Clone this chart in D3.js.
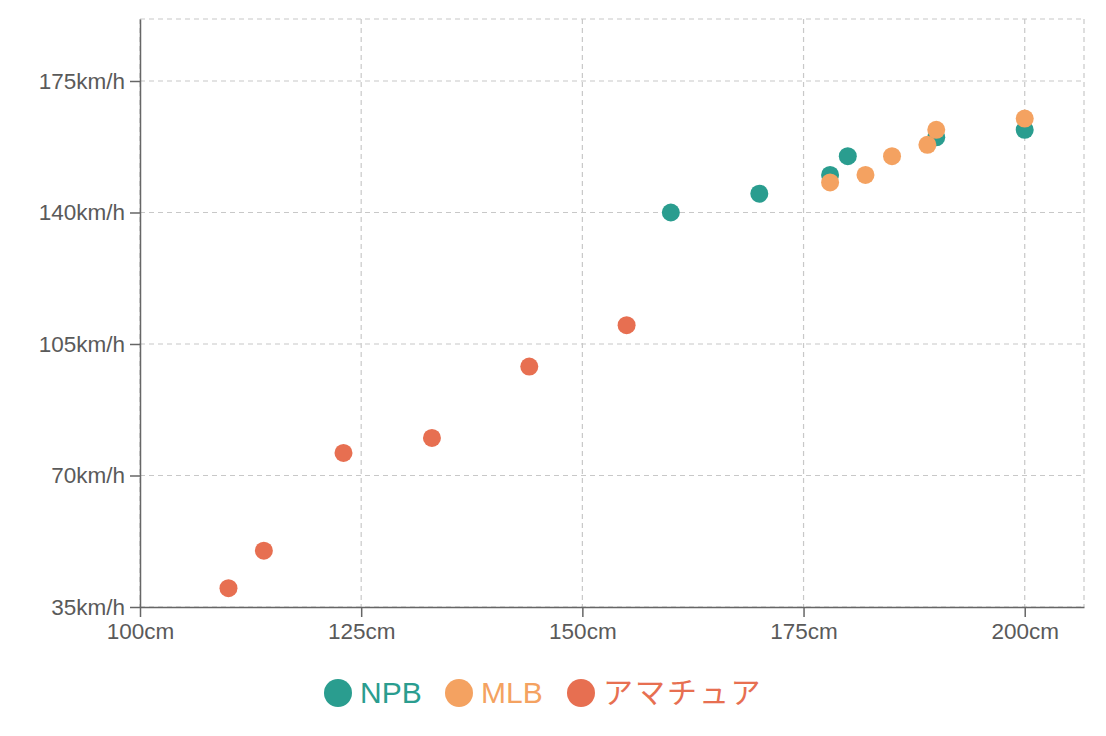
<!DOCTYPE html>
<html>
<head>
<meta charset="utf-8">
<script src="https://cdn.jsdelivr.net/npm/d3@7"></script>
<style>
  body { margin: 0; background: #fff; font-family: "Liberation Sans", Arial, sans-serif; }
  .grid line { stroke: #c8c8c8; stroke-dasharray: 5,4; stroke-width: 1.2; }
  .axis path, .axis line { stroke: #666; stroke-width: 1.5; }
  .axis text { fill: #5a5a5a; font-size: 22.5px; font-family: "Liberation Sans", Arial, sans-serif; }
</style>
</head>
<body>
<div id="container"></div>
<script>
// series names and colours
var seriesNames = ["NPB", "MLB", "アマチュア"];
var seriesColors = ["#2a9d8f", "#f4a261", "#e76f51"];

// height (cm) / speed (km/h) per series
var npbHeight = [160, 170, 178, 180, 190, 200];
var npbSpeed  = [140, 145, 150, 155, 160, 162];

var mlbHeight = [178, 182, 185, 189, 190, 200];
var mlbSpeed  = [148, 150, 155, 158, 162, 165];

var amaHeight = [110, 114, 123, 133, 144, 155];
var amaSpeed  = [40, 50, 76, 80, 99, 110];

var xTicks = [100, 125, 150, 175, 200];
var yTicks = [35, 70, 105, 140, 175];

var W = 1106, H = 736;
var margin = {top: 19, right: 22, bottom: 129, left: 140};
var width = W - margin.left - margin.right;
var height = H - margin.top - margin.bottom;

var series = [
  {name: seriesNames[0], color: seriesColors[0], xs: npbHeight, ys: npbSpeed},
  {name: seriesNames[1], color: seriesColors[1], xs: mlbHeight, ys: mlbSpeed},
  {name: seriesNames[2], color: seriesColors[2], xs: amaHeight, ys: amaSpeed}
];

var svg = d3.select("#container")
  .append("svg")
    .attr("width", W)
    .attr("height", H)
  .append("g")
    .attr("transform", "translate(" + margin.left + "," + margin.top + ")");

var x = d3.scaleLinear().domain([100, 206.7]).range([0, width]);
var y = d3.scaleLinear().domain([35, 191.5]).range([height, 0]);

// grid
var grid = svg.append("g").attr("class", "grid");
grid.selectAll(".gx")
    .data(xTicks.concat([206.7]))
  .enter().append("line")
    .attr("x1", function(d) { return x(d); })
    .attr("x2", function(d) { return x(d); })
    .attr("y1", 0)
    .attr("y2", height);
grid.selectAll(".gy")
    .data(yTicks.concat([191.5]))
  .enter().append("line")
    .attr("x1", 0)
    .attr("x2", width)
    .attr("y1", function(d) { return y(d); })
    .attr("y2", function(d) { return y(d); });

// axes
svg.append("g")
  .attr("class", "x axis")
  .attr("transform", "translate(0," + height + ")")
  .call(d3.axisBottom(x).tickValues(xTicks).tickSize(10).tickSizeOuter(0).tickPadding(6)
    .tickFormat(function(d) { return d + "cm"; }));

svg.append("g")
  .attr("class", "y axis")
  .call(d3.axisLeft(y).tickValues(yTicks).tickSize(10).tickSizeOuter(0).tickPadding(5)
    .tickFormat(function(d) { return d + "km/h"; }));

// points
series.forEach(function(s) {
  var pts = s.xs.map(function(v, i) { return {x: v, y: s.ys[i]}; });
  svg.selectAll(".dot-" + s.name)
      .data(pts)
    .enter().append("circle")
      .attr("r", 9)
      .attr("cx", function(d) { return x(d.x); })
      .attr("cy", function(d) { return y(d.y); })
      .attr("fill", s.color);
});

// legend
var legendX = [338, 459, 581];
var legend = d3.select("svg").append("g");
series.forEach(function(s, i) {
  legend.append("circle")
    .attr("cx", legendX[i])
    .attr("cy", 693)
    .attr("r", 14)
    .attr("fill", s.color);
  legend.append("text")
    .attr("x", legendX[i] + 22)
    .attr("y", 703)
    .attr("fill", s.color)
    .style("font-size", "30px")
    .style("letter-spacing", i == 2 ? "2px" : "0px")
    .style("font-family", "'Liberation Sans', 'Noto Sans CJK JP', sans-serif")
    .text(s.name);
});
</script>
</body>
</html>
